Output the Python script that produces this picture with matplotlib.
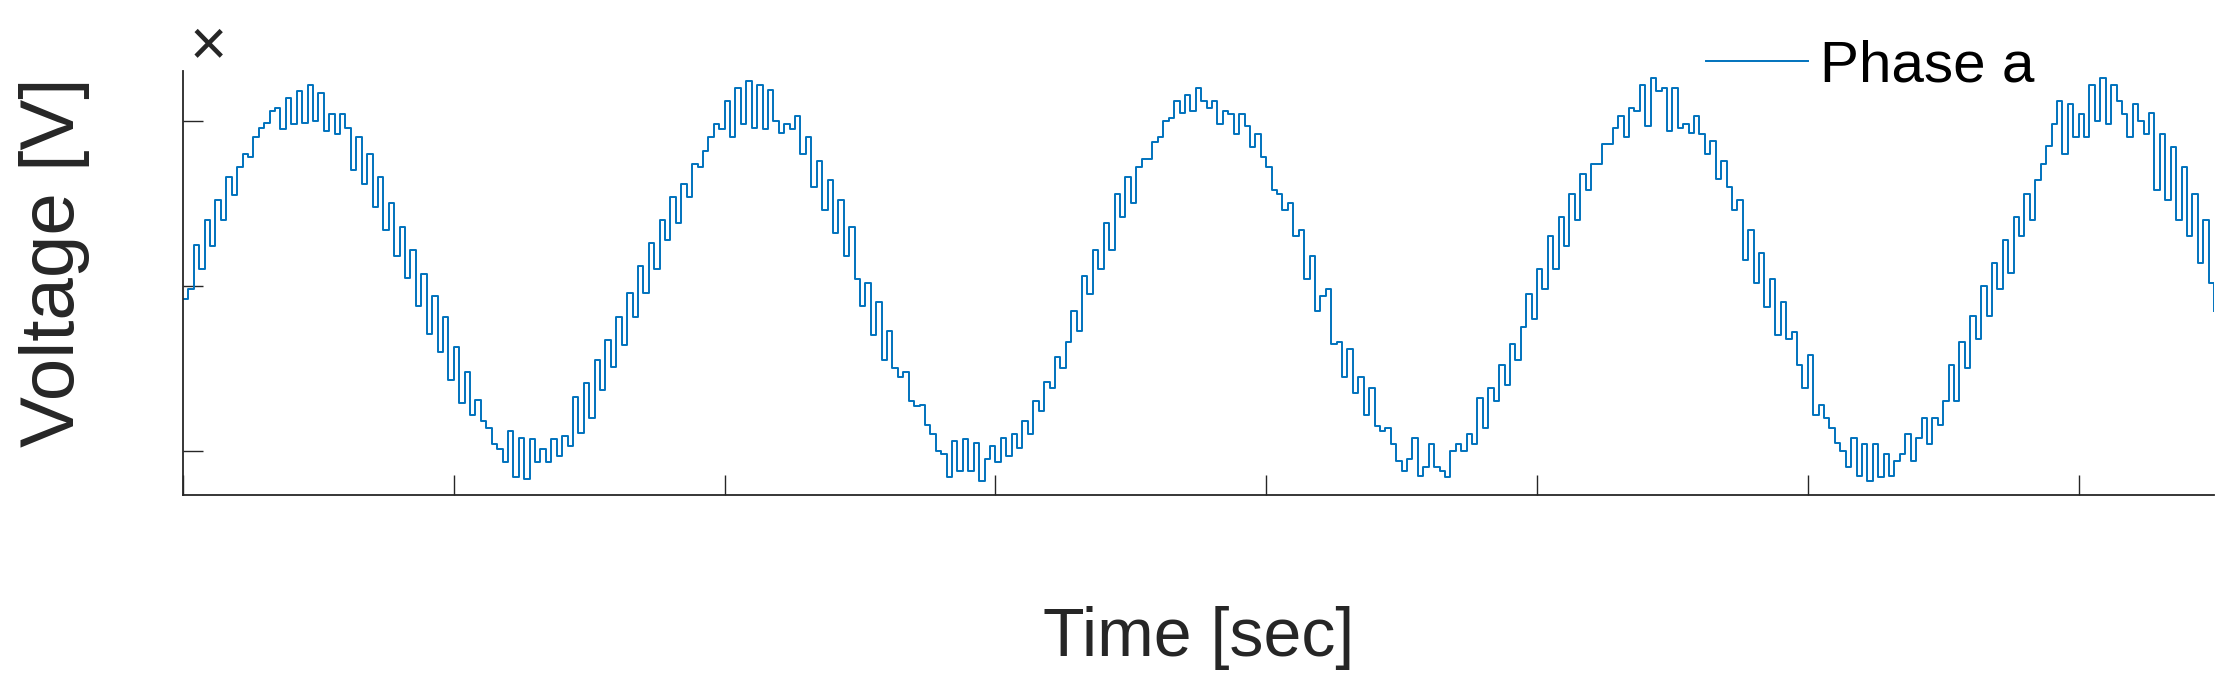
import numpy as np
import matplotlib.pyplot as plt

plt.rcParams['font.family'] = ['Liberation Sans', 'DejaVu Sans']

dt = 0.0002
seg1 = [-0.08, -0.02, 0.25, 0.10, 0.40, 0.24, 0.52, 0.40, 0.66, 0.55, 0.72, 0.80, 0.78, 0.90, 0.96, 0.99,
        1.06, 1.08, 0.95, 1.14, 0.98, 1.18, 0.99, 1.22, 1.00, 1.17, 0.94, 1.04, 0.92, 1.04, 0.96, 0.70,
        0.90, 0.62, 0.80, 0.48, 0.66, 0.34, 0.50, 0.18, 0.36, 0.05, 0.22, -0.12, 0.07, -0.29, -0.06, -0.40,
        -0.19, -0.57, -0.37, -0.71, -0.52, -0.78, -0.69, -0.82, -0.86, -0.96, -0.99, -1.07, -0.88, -1.16, -0.92]
seg2 = [-1.17, -0.93, -1.07, -0.99, -1.07, -0.93, -1.03, -0.91, -0.97, -0.67, -0.89, -0.59, -0.80, -0.45, -0.63, -0.33,
        -0.49, -0.19, -0.36, -0.04, -0.19, 0.12, -0.04, 0.26, 0.10, 0.40, 0.28, 0.54, 0.38, 0.62, 0.54, 0.74,
        0.72, 0.82, 0.90, 0.98, 0.95, 1.12, 0.90, 1.20, 0.98, 1.24, 0.96, 1.22, 0.95, 1.19, 1.00, 0.93,
        0.98, 0.95, 1.03, 0.80, 0.90, 0.60, 0.76, 0.46, 0.64, 0.32, 0.52, 0.18, 0.36, 0.04, -0.12]
seg3 = [0.02, -0.30, -0.10, -0.45, -0.27, -0.50, -0.55, -0.52, -0.70, -0.73, -0.72, -0.84, -0.90, -1.00, -1.02, -1.16,
        -0.94, -1.12, -0.93, -1.12, -0.95, -1.18, -1.05, -0.97, -1.07, -0.92, -1.03, -0.90, -0.98, -0.82, -0.90, -0.70,
        -0.76, -0.58, -0.62, -0.43, -0.50, -0.34, -0.15, -0.27, 0.06, -0.05, 0.22, 0.10, 0.38, 0.22, 0.56, 0.42,
        0.66, 0.50, 0.72, 0.77, 0.77, 0.87, 0.90, 1.00, 1.02, 1.12, 1.05, 1.16, 1.06, 1.20, 1.12]
seg4 = [1.08, 1.12, 0.98, 1.06, 1.04, 0.92, 1.04, 0.97, 0.84, 0.92, 0.78, 0.72, 0.58, 0.56, 0.46, 0.50,
        0.30, 0.34, 0.04, 0.18, -0.15, -0.06, -0.02, -0.35, -0.34, -0.55, -0.38, -0.65, -0.55, -0.78, -0.62, -0.85,
        -0.88, -0.86, -0.96, -1.06, -1.12, -1.05, -0.92, -1.15, -1.10, -0.96, -1.10, -1.12, -1.16, -1.00, -0.96, -1.00,
        -0.90, -0.96, -0.68, -0.86, -0.62, -0.70, -0.48, -0.60, -0.35, -0.45, -0.25, -0.05, -0.20, 0.10, -0.02]
seg5 = [0.30, 0.10, 0.42, 0.24, 0.56, 0.40, 0.68, 0.58, 0.74, 0.74, 0.86, 0.86, 0.96, 1.03, 0.90, 1.08,
        1.06, 1.22, 0.97, 1.26, 1.18, 1.20, 0.94, 1.20, 0.96, 0.98, 0.93, 1.03, 0.92, 0.80, 0.88, 0.65,
        0.76, 0.60, 0.46, 0.52, 0.16, 0.34, 0.02, 0.20, -0.13, 0.04, -0.30, -0.10, -0.32, -0.28, -0.48, -0.62,
        -0.42, -0.78, -0.72, -0.80, -0.86, -0.95, -1.00, -1.10, -0.92, -1.15, -0.96, -1.18, -0.96, -1.16, -1.02]
seg6 = [-1.15, -1.06, -1.02, -0.90, -1.06, -0.92, -0.80, -0.96, -0.80, -0.84, -0.70, -0.48, -0.70, -0.34, -0.50, -0.18,
        -0.32, 0.00, -0.18, 0.14, -0.02, 0.28, 0.08, 0.42, 0.30, 0.56, 0.40, 0.64, 0.74, 0.85, 0.98, 1.12,
        0.80, 1.10, 0.90, 1.04, 0.90, 1.22, 1.00, 1.26, 0.98, 1.22, 1.12, 1.04, 0.90, 1.10, 1.00, 0.92,
        1.05, 0.58, 0.92, 0.52, 0.84, 0.40, 0.72, 0.30, 0.56, 0.14, 0.40, 0.02, -0.15]

v = np.array(seg1 + seg2 + seg3 + seg4 + seg5 + seg6)
t = np.arange(len(v)) * dt

fig = plt.figure(figsize=(22.4, 6.99), dpi=100)
ax = fig.add_axes([183/2240, 1 - 495/699, (2214 - 183)/2240, (495 - 71)/699])

ax.plot(t, v, color='#0072BD', lw=1.4, drawstyle='steps-post', label='Phase a')

ax.set_xlim(0, 0.075)
ax.set_ylim(-1.267, 1.303)
ax.set_xticks(np.arange(0, 0.071, 0.01))
ax.set_yticks([-1, 0, 1])
ax.tick_params(direction='in', length=14.5, width=1.0, color='#262626',
               labelbottom=False, labelleft=False)
for s in ['top', 'right']:
    ax.spines[s].set_visible(False)
for s in ['left', 'bottom']:
    ax.spines[s].set_color('#262626')
    ax.spines[s].set_linewidth(1.3)

fig.text(0.5 * (183 + 2214) / 2240, 1 - 638/699, 'Time [sec]', ha='center', va='center',
         fontsize=49, color='#262626')
fig.text(55/2240, 1 - 262/699, 'Voltage [V]', ha='center', va='center', rotation=90,
         fontsize=55, color='#262626')
fig.text(208/2240, 1 - 48/699, '×', ha='center', va='center', fontsize=46, color='#262626')

ax.legend(loc='center left', bbox_to_anchor=(1706/2240, 1 - 66/699), bbox_transform=fig.transFigure,
          frameon=False, fontsize=42, handlelength=1.75, handletextpad=0.2,
          borderpad=0, borderaxespad=0)

fig.savefig('out.png', dpi=100)
